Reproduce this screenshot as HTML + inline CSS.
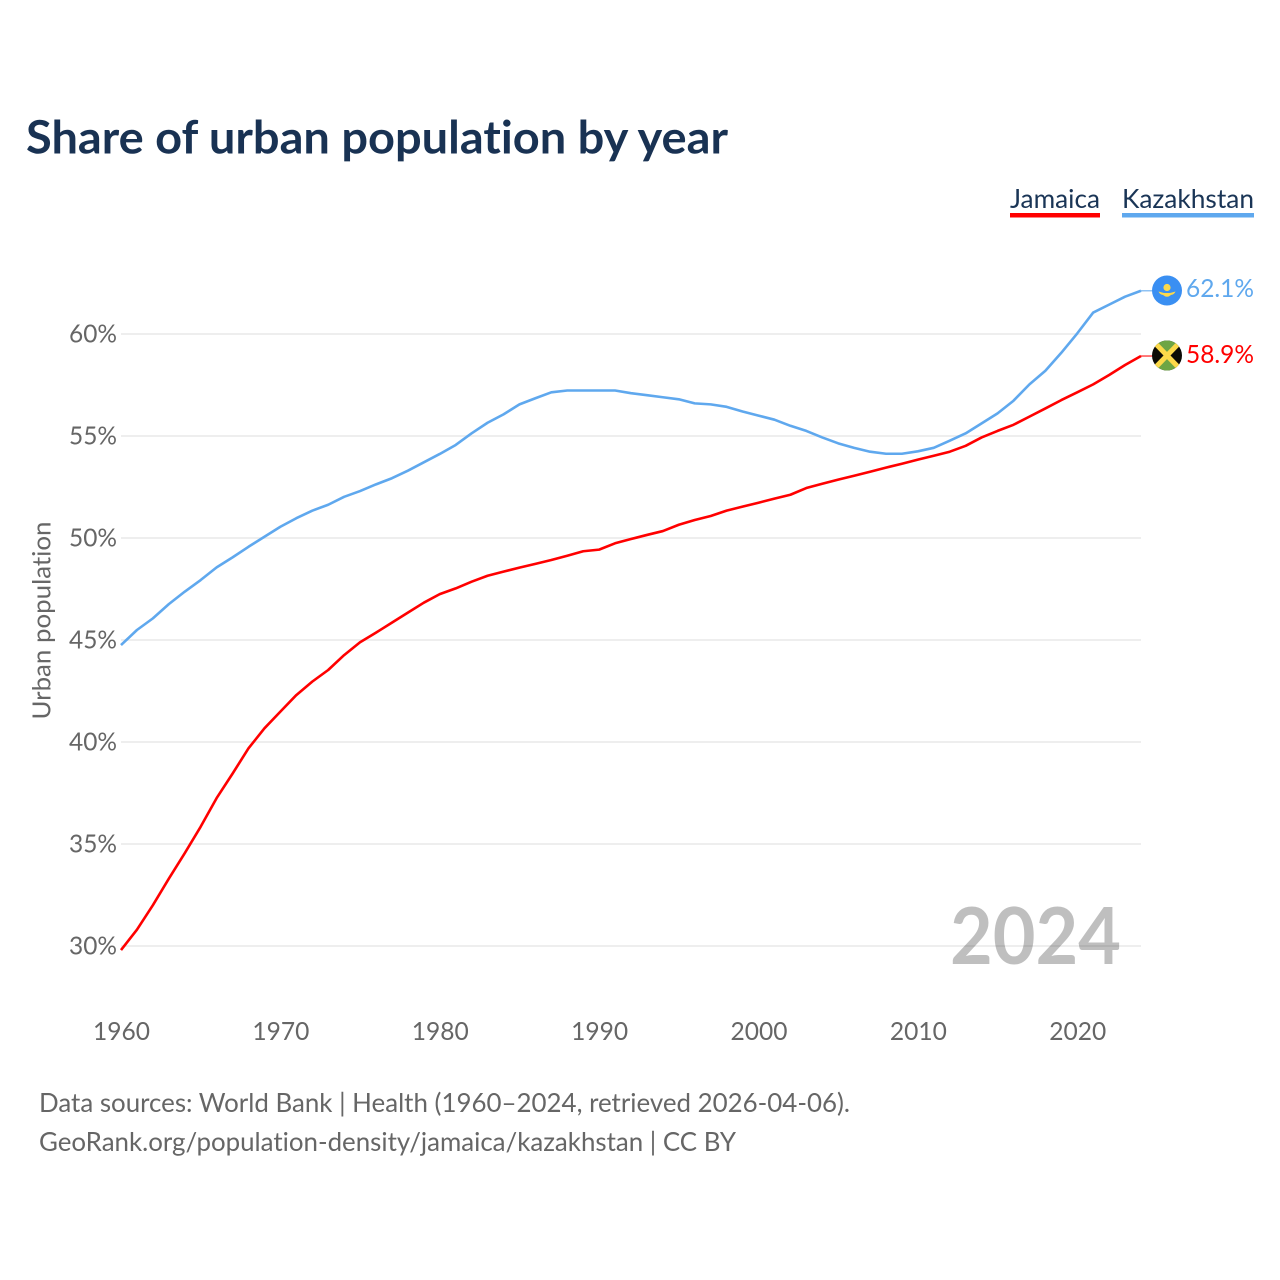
<!DOCTYPE html>
<html lang="en">
<head>
<meta charset="utf-8">
<title>Share of urban population by year</title>
<style>
html,body{margin:0;padding:0;background:#fff;}
svg{display:block;}
text{font-family:"Lato","Liberation Sans",sans-serif;font-variant-ligatures:none;font-feature-settings:"liga" 0,"clig" 0;}
</style>
</head>
<body>
<svg id="chart" width="1280" height="1280" viewBox="0 0 1280 1280" xmlns="http://www.w3.org/2000/svg">
  <rect x="0" y="0" width="1280" height="1280" fill="#ffffff"/>
  <text x="26" y="153.5" font-size="46" font-weight="700" fill="#193253" textLength="702" lengthAdjust="spacingAndGlyphs">Share of urban population by year</text>

  <g>
    <text x="1010" y="208" font-size="26.5" fill="#1a3556" textLength="90" lengthAdjust="spacingAndGlyphs">Jamaica</text>
    <rect x="1010" y="213" width="90" height="4.5" fill="#ff0000"/>
  </g>
  <g>
    <text x="1122" y="208" font-size="26.5" fill="#1a3556" textLength="132" lengthAdjust="spacingAndGlyphs">Kazakhstan</text>
    <rect x="1122" y="213" width="132" height="4.5" fill="#5fa8ee"/>
  </g>

  <g id="grid"></g>
  <g id="yticks"></g>
  <g id="xticks"></g>
  <text transform="translate(50.5 719.5) rotate(-90)" font-size="25.5" fill="#666666" textLength="198" lengthAdjust="spacingAndGlyphs">Urban population</text>

  <text x="950" y="964" font-size="79" font-weight="700" fill="#000000" fill-opacity="0.25" textLength="171" lengthAdjust="spacingAndGlyphs">2024</text>

  <g id="series"></g>

  <defs>
    <clipPath id="clip-kz"><circle cx="1167" cy="290.5" r="15"/></clipPath>
    <clipPath id="clip-jm"><circle cx="1167" cy="355.5" r="15"/></clipPath>
  </defs>

  <g clip-path="url(#clip-kz)">
    <rect x="1152" y="275" width="30" height="31" fill="#3a8ff2"/>
    <circle cx="1167" cy="287.5" r="3.6" fill="#fcd94a"/>
    <path d="M1158.5 291.5 Q1160 295 1163.5 295 L1170.5 295 Q1174 295 1175.5 291.5 Q1172 292.5 1170 293 L1164 293 Q1162 292.5 1158.5 291.5 Z M1163 295 Q1167 298.5 1171 295 Z" fill="#fcd94a"/>
  </g>
  <g clip-path="url(#clip-jm)">
    <rect x="1152" y="340" width="30" height="31" fill="#0b0b06"/>
    <path d="M1152 340 L1182 340 L1167 355.5 Z" fill="#6ea544"/>
    <path d="M1152 371 L1182 371 L1167 355.5 Z" fill="#6ea544"/>
    <path d="M1152 340 L1182 371 M1182 340 L1152 371" stroke="#fcd94a" stroke-width="5" fill="none"/>
  </g>

  <text x="1186" y="297" font-size="25.5" fill="#5fa8ee" textLength="68" lengthAdjust="spacingAndGlyphs">62.1%</text>
  <text x="1186" y="363" font-size="25.5" fill="#ff0000" textLength="68" lengthAdjust="spacingAndGlyphs">58.9%</text>

  <text x="39" y="1112" font-size="26.5" fill="#666666" textLength="811" lengthAdjust="spacingAndGlyphs">Data sources: World Bank | Health (1960–2024, retrieved 2026-04-06).</text>
  <text x="39" y="1151" font-size="26.5" fill="#666666" textLength="697" lengthAdjust="spacingAndGlyphs">GeoRank.org/population-density/jamaica/kazakhstan | CC BY</text>
</svg>
<script>
const firstYear = 1960;
const yTickValues = [30, 35, 40, 45, 50, 55, 60];
const xTickYears = [1960, 1970, 1980, 1990, 2000, 2010, 2020];
const jamaicaValues = [
  29.8,30.8,32.0,33.3,34.55,35.85,37.25,38.45,39.69,40.67,
  41.49,42.3,42.96,43.53,44.26,44.89,45.36,45.85,46.34,46.83,
  47.25,47.53,47.86,48.15,48.35,48.55,48.73,48.92,49.13,49.35,
  49.43,49.74,49.95,50.15,50.34,50.65,50.88,51.08,51.34,51.54,
  51.73,51.93,52.12,52.45,52.66,52.86,53.05,53.25,53.45,53.64,
  53.84,54.03,54.23,54.52,54.93,55.25,55.55,55.95,56.35,56.76,
  57.14,57.53,57.99,58.48,58.92
];
const kazakhstanValues = [
  44.75,45.49,46.06,46.76,47.37,47.94,48.56,49.05,49.57,50.06,
  50.55,50.97,51.34,51.63,52.02,52.3,52.63,52.93,53.3,53.71,
  54.12,54.56,55.13,55.65,56.06,56.55,56.85,57.14,57.23,57.23,
  57.23,57.23,57.1,57.0,56.9,56.8,56.6,56.55,56.43,56.2,
  56.0,55.8,55.5,55.25,54.93,54.64,54.42,54.23,54.13,54.13,
  54.25,54.42,54.77,55.13,55.62,56.11,56.73,57.53,58.2,59.08,
  60.03,61.05,61.44,61.83,62.12
];

const SVG_NS = 'http://www.w3.org/2000/svg';
const plotLeft = 121, plotRight = 1141;
function xScale(year) { return plotLeft + (year - 1960) * (plotRight - plotLeft) / 64; }
function yScale(value) { return 946 - (value - 30) * 20.4; }

function make(tag, attrs, parent) {
  const el = document.createElementNS(SVG_NS, tag);
  for (const k in attrs) el.setAttribute(k, attrs[k]);
  parent.appendChild(el);
  return el;
}

const gridG = document.getElementById('grid');
const yG = document.getElementById('yticks');
yTickValues.forEach(function (v) {
  const line = make('line', {x1: plotLeft, x2: plotRight, y1: yScale(v), y2: yScale(v), stroke: '#eeeeee', 'stroke-width': 2}, gridG);
  
  
  const t = make('text', {x: 117, y: yScale(v) + 8.3, 'font-size': 25.5, fill: '#666666', 'text-anchor': 'end', textLength: 48, lengthAdjust: 'spacingAndGlyphs'}, yG);
  
  
  t.textContent = v + '%';
});

const xG = document.getElementById('xticks');
xTickYears.forEach(function (yr) {
  const t = make('text', {x: xScale(yr) + 0.5, y: 1040, 'font-size': 25.5, fill: '#666666', 'text-anchor': 'middle', textLength: 57, lengthAdjust: 'spacingAndGlyphs'}, xG);
  
  
  t.textContent = yr;
});

function drawSeries(values, color, name) {
  const g = document.getElementById('series');
  const pts = values.map(function (v, i) { return xScale(firstYear + i).toFixed(2) + ',' + yScale(v).toFixed(2); });
  const line = make('polyline', {points: pts.join(' '), fill: 'none', stroke: color, 'stroke-width': 2.6, 'stroke-linejoin': 'round'}, g);
  
  
  const last = yScale(values[values.length - 1]);
  const leader = make('line', {x1: plotRight, x2: 1153, y1: last, y2: last, stroke: color, 'stroke-width': 1.5, 'stroke-opacity': 0.7}, g);
  
  
}
drawSeries(kazakhstanValues, '#5fa8ee', 'series-kazakhstan');
drawSeries(jamaicaValues, '#ff0000', 'series-jamaica');
</script>
</body>
</html>
